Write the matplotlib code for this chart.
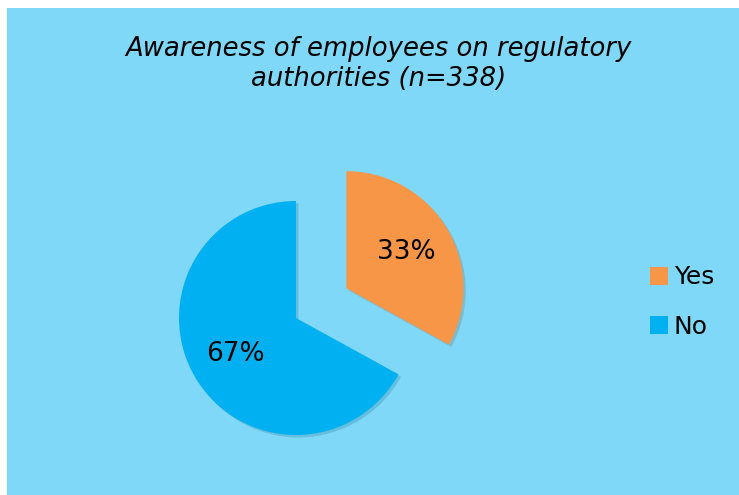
import matplotlib.pyplot as plt
from matplotlib.patches import Rectangle, Patch

labels = ['Yes', 'No']
shares = [33, 67]
colors = ['#F79646', '#00B0F0']
title = 'Awareness of employees on regulatory\nauthorities (n=338)'

W, H = 739, 495
fig = plt.figure(figsize=(W / 100, H / 100), dpi=100, facecolor='white')

# light blue chart area, with a thin white margin on the top and left
fig.patches.append(Rectangle((7 / W, 0), 1 - 7 / W, 1 - 8 / H, transform=fig.transFigure,
                             facecolor='#80D8F8', edgecolor='none', zorder=-5))

fig.text(379 / W, 1 - 64 / H, title, ha='center', va='center', fontsize=18.6,
         style='italic', linespacing=1.25)

# pie centre at (296, 318) px, radius ~117 px
scale = 117
half = 1.5 * scale
ax = fig.add_axes([(296 - half) / W, (H - 318 - half) / H, 2 * half / W, 2 * half / H])

wedges, texts, autotexts = ax.pie(shares, colors=colors, startangle=90, counterclock=False,
                                  explode=[0.5, 0], autopct='%d%%', pctdistance=0.6,
                                  shadow={'ox': 0.015, 'oy': -0.015, 'shade': 0.5, 'alpha': 0.2},
                                  textprops={'fontsize': 19, 'color': 'black'},
                                  wedgeprops={'linewidth': 0})
# pie() resets the limits, so fix them afterwards
ax.set_xlim(-1.5, 1.5)
ax.set_ylim(-1.5, 1.5)
ax.axis('off')

handles = [Patch(facecolor=c, edgecolor='none') for c in colors]
fig.legend(handles, labels, loc='center left', bbox_to_anchor=(640 / W, 1 - 302 / H),
           frameon=False, fontsize=18, handlelength=0.7, handleheight=0.7,
           handletextpad=0.25, labelspacing=1.0, borderaxespad=0)

fig.savefig('out.png', dpi=100, facecolor='white')
